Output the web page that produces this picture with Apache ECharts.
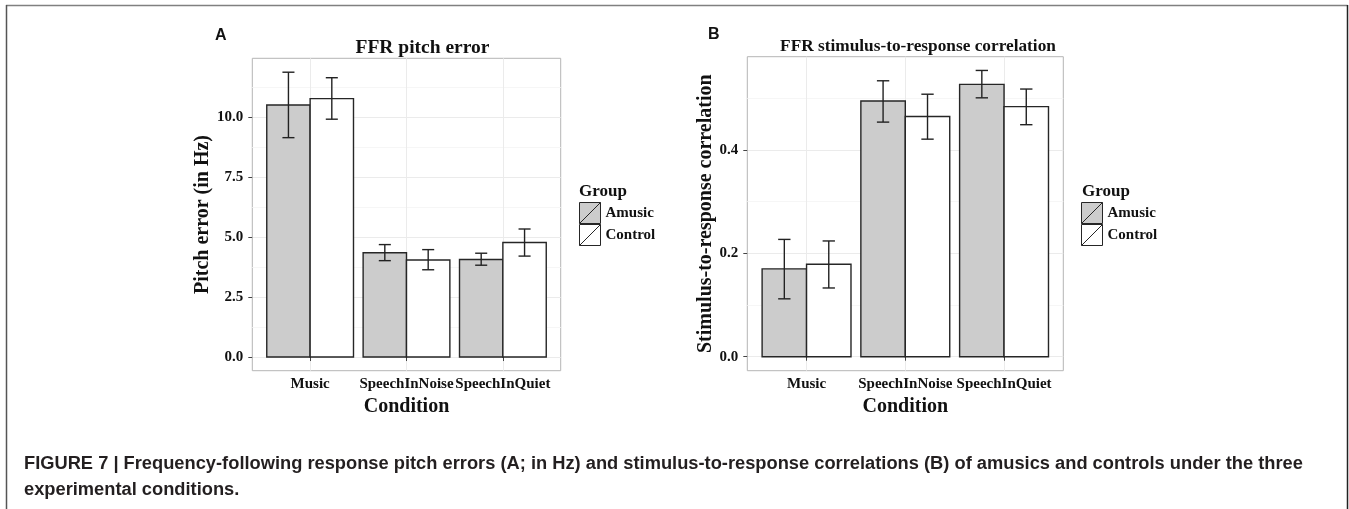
<!DOCTYPE html>
<html>
<head>
<meta charset="utf-8">
<script src="https://cdn.jsdelivr.net/npm/echarts@6/dist/echarts.min.js"></script>
<style>html,body{margin:0;padding:0;background:#fff;}#c{width:1349px;height:509px;}</style>
</head>
<body>
<div id="c"></div>
<script>
const CATEGORIES = ['Music', 'SpeechInNoise', 'SpeechInQuiet'];
const GROUPS = ['Amusic', 'Control'];

const PITCH_AMUSIC = [10.51, 4.35, 4.07];
const PITCH_AMUSIC_LO = [9.15, 4.02, 3.83];
const PITCH_AMUSIC_HI = [11.88, 4.69, 4.33];
const PITCH_CONTROL = [10.78, 4.05, 4.78];
const PITCH_CONTROL_LO = [9.92, 3.64, 4.21];
const PITCH_CONTROL_HI = [11.65, 4.48, 5.34];

const CORR_AMUSIC = [0.170, 0.495, 0.527];
const CORR_AMUSIC_LO = [0.112, 0.454, 0.501];
const CORR_AMUSIC_HI = [0.227, 0.534, 0.554];
const CORR_CONTROL = [0.179, 0.465, 0.484];
const CORR_CONTROL_LO = [0.133, 0.421, 0.449];
const CORR_CONTROL_HI = [0.224, 0.508, 0.518];

const PITCH_TICKS = [0, 2.5, 5, 7.5, 10];
const PITCH_MINOR = [1.25, 3.75, 6.25, 8.75, 11.25];
const CORR_TICKS = [0, 0.2, 0.4];
const CORR_MINOR = [0.1, 0.3, 0.5];

const SERIF = "'Liberation Serif', 'DejaVu Serif', serif";
const SANS = "'Liberation Sans', Arial, sans-serif";
const FILL = { Amusic: '#cccccc', Control: '#ffffff' };
const DODGE = 0.45;
const CAP = 0.125;

const chart = echarts.init(document.getElementById('c'), null, { renderer: 'canvas' });

function barRender(offset, fill) {
  return function (params, api) {
    const x = api.value(0), y = api.value(1);
    const p0 = api.coord([x + offset - DODGE / 2, 0]);
    const p1 = api.coord([x + offset + DODGE / 2, y]);
    return {
      type: 'rect',
      shape: { x: p0[0], y: p1[1], width: p1[0] - p0[0], height: p0[1] - p1[1] },
      style: { fill: fill, stroke: '#262626', lineWidth: 1.4 }
    };
  };
}
function errRender(offset) {
  return function (params, api) {
    const x = api.value(0) + offset;
    const lo = api.coord([x, api.value(1)]);
    const hi = api.coord([x, api.value(2)]);
    const l = api.coord([x - CAP / 2, api.value(1)])[0];
    const r = api.coord([x + CAP / 2, api.value(1)])[0];
    const st = { stroke: '#222', lineWidth: 1.4 };
    return {
      type: 'group',
      children: [
        { type: 'line', shape: { x1: lo[0], y1: lo[1], x2: hi[0], y2: hi[1] }, style: st },
        { type: 'line', shape: { x1: l, y1: lo[1], x2: r, y2: lo[1] }, style: st },
        { type: 'line', shape: { x1: l, y1: hi[1], x2: r, y2: hi[1] }, style: st }
      ]
    };
  };
}
function barData(vals) { return vals.map((v, i) => [i + 1, v]); }
function errData(lo, hi) { return lo.map((v, i) => [i + 1, v, hi[i]]); }

function makeSeries(gi, amusic, control, aLo, aHi, cLo, cHi) {
  return [
    { type: 'custom', name: 'Amusic', xAxisIndex: gi, yAxisIndex: gi * 2, renderItem: barRender(-DODGE / 2, FILL.Amusic), data: barData(amusic), itemStyle: { color: FILL.Amusic }, z: 3 },
    { type: 'custom', name: 'Control', xAxisIndex: gi, yAxisIndex: gi * 2, renderItem: barRender(DODGE / 2, FILL.Control), data: barData(control), itemStyle: { color: FILL.Control }, z: 3 },
    { type: 'custom', name: 'errA' + gi, xAxisIndex: gi, yAxisIndex: gi * 2, renderItem: errRender(-DODGE / 2), data: errData(aLo, aHi), z: 4 },
    { type: 'custom', name: 'errC' + gi, xAxisIndex: gi, yAxisIndex: gi * 2, renderItem: errRender(DODGE / 2), data: errData(cLo, cHi), z: 4 }
  ];
}

function xAxisFor(gi, nameGap) {
  return {
    type: 'value', gridIndex: gi, min: 0.4, max: 3.6,
    name: 'Condition', nameLocation: 'middle', nameGap: nameGap,
    nameTextStyle: { fontFamily: SERIF, fontWeight: 'bold', fontSize: 20, color: '#111' },
    axisLine: { show: false },
    axisTick: { show: true, length: 4, lineStyle: { color: '#444' }, customValues: [1, 2, 3] },
    axisLabel: { customValues: [1, 2, 3], formatter: v => CATEGORIES[Math.round(v) - 1], fontFamily: SERIF, fontWeight: 'bold', fontSize: 15, color: '#111', margin: 6 },
    splitLine: { show: true, lineStyle: { color: '#ebebeb', width: 1 } }
  };
}
function yAxesFor(gi, min, max, ticks, minor, name, nameGap) {
  return [
    {
      type: 'value', gridIndex: gi, min: min, max: max,
      name: name, nameLocation: 'middle', nameGap: nameGap,
      nameTextStyle: { fontFamily: SERIF, fontWeight: 'bold', fontSize: 20, color: '#111' },
      axisLine: { show: false },
      axisTick: { show: true, length: 4, lineStyle: { color: '#444' }, customValues: ticks },
      axisLabel: { customValues: ticks, formatter: v => v.toFixed(1), fontFamily: SERIF, fontWeight: 'bold', fontSize: 15, color: '#111', margin: 9 },
      splitLine: { show: true, lineStyle: { color: '#ebebeb', width: 1 } }
    },
    {
      type: 'value', gridIndex: gi, min: min, max: max, position: 'left',
      axisLine: { show: false },
      axisTick: { show: false, customValues: minor },
      axisLabel: { show: false },
      splitLine: { show: true, lineStyle: { color: '#f6f6f6', width: 1 } }
    }
  ];
}

function legendFor(left) {
  return {
    left: left, top: 202, orient: 'vertical', padding: 0, itemGap: 0,
    itemWidth: 21, itemHeight: 21, selectedMode: false,
    icon: 'path://M0,0L20,0L20,20L0,20Z M0,20L20,0',
    textStyle: { fontFamily: SERIF, fontWeight: 'bold', fontSize: 15, color: '#111' },
    data: GROUPS.map(g => ({ name: g, itemStyle: { color: FILL[g], borderColor: '#262626', borderWidth: 1 } }))
  };
}

const option = {
  animation: false,
  backgroundColor: '#ffffff',
  grid: [
    { left: 252.3, top: 58.3, width: 308.4, height: 312.4, show: true, backgroundColor: '#fff', borderColor: '#b5b5b5', borderWidth: 1 },
    { left: 747.3, top: 56.7, width: 316, height: 314, show: true, backgroundColor: '#fff', borderColor: '#b5b5b5', borderWidth: 1 }
  ],
  xAxis: [xAxisFor(0, 21), xAxisFor(1, 21)],
  yAxis: [
    ...yAxesFor(0, -0.57, 12.46, PITCH_TICKS, PITCH_MINOR, 'Pitch error (in Hz)', 36),
    ...yAxesFor(1, -0.0271, 0.5806, CORR_TICKS, CORR_MINOR, 'Stimulus-to-response correlation', 30)
  ],
  legend: [legendFor(579), legendFor(1081)],
  series: [
    ...makeSeries(0, PITCH_AMUSIC, PITCH_CONTROL, PITCH_AMUSIC_LO, PITCH_AMUSIC_HI, PITCH_CONTROL_LO, PITCH_CONTROL_HI),
    ...makeSeries(1, CORR_AMUSIC, CORR_CONTROL, CORR_AMUSIC_LO, CORR_AMUSIC_HI, CORR_CONTROL_LO, CORR_CONTROL_HI)
  ],
  graphic: [
    { type: 'line', shape: { x1: 6, y1: 5.5, x2: 1347.5, y2: 5.5 }, style: { stroke: '#808080', lineWidth: 1.5 } },
    { type: 'line', shape: { x1: 6.5, y1: 5, x2: 6.5, y2: 509 }, style: { stroke: '#555', lineWidth: 1.5 } },
    { type: 'line', shape: { x1: 1347.5, y1: 5, x2: 1347.5, y2: 509 }, style: { stroke: '#222', lineWidth: 1.5 } },
    { type: 'text', left: 215, top: 28, style: { text: 'A', font: 'bold 16px ' + SANS, fill: '#111' } },
    { type: 'text', left: 708, top: 27, style: { text: 'B', font: 'bold 16px ' + SANS, fill: '#111' } },
    { type: 'text', x: 422.5, y: 48, style: { text: 'FFR pitch error', font: 'bold 19.5px ' + SERIF, fill: '#111', align: 'center', verticalAlign: 'middle' } },
    { type: 'text', x: 918, y: 47, style: { text: 'FFR stimulus-to-response correlation', font: 'bold 17.3px ' + SERIF, fill: '#111', align: 'center', verticalAlign: 'middle' } },
    { type: 'text', x: 579, y: 192, style: { text: 'Group', font: 'bold 17px ' + SERIF, fill: '#111', align: 'left', verticalAlign: 'middle' } },
    { type: 'text', x: 1082, y: 192, style: { text: 'Group', font: 'bold 17px ' + SERIF, fill: '#111', align: 'left', verticalAlign: 'middle' } },
    { type: 'text', x: 24, y: 464, style: { text: 'FIGURE 7 | Frequency-following response pitch errors (A; in Hz) and stimulus-to-response correlations (B) of amusics and controls under the three', font: 'bold 18.3px ' + SANS, fill: '#231f20', align: 'left', verticalAlign: 'middle' } },
    { type: 'text', x: 24, y: 490, style: { text: 'experimental conditions.', font: 'bold 18.3px ' + SANS, fill: '#231f20', align: 'left', verticalAlign: 'middle' } }
  ]
};
chart.setOption(option);
</script>
</body>
</html>
